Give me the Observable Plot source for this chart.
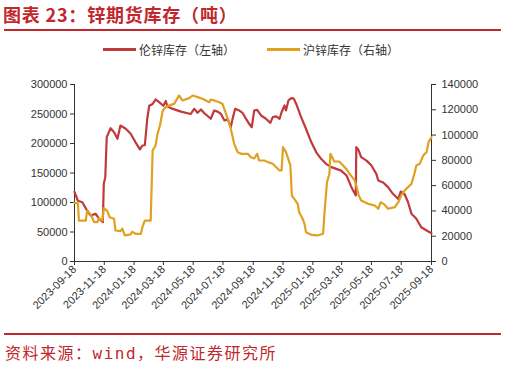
<!DOCTYPE html>
<html>
<head>
<meta charset="utf-8">
<script src="https://cdn.jsdelivr.net/npm/d3@7"></script>
<script src="https://cdn.jsdelivr.net/npm/@observablehq/plot@0.6"></script>
<style>
  html, body { margin: 0; padding: 0; background: #fff; }
  body { width: 506px; height: 367px; position: relative; overflow: hidden; font-family: "Liberation Sans", Arial, sans-serif; }
  #title { position: absolute; left: 3px; top: 1px; font-family: "Noto Sans CJK SC", sans-serif; font-weight: bold; font-size: 18px; color: #c0282d; letter-spacing: 0.8px; }
  #topline { position: absolute; left: 4px; top: 29px; width: 497px; height: 2px; background: #c0282d; }
  #legend { position: absolute; top: 39px; left: 0; width: 506px; height: 20px; font-family: "Noto Sans CJK SC", sans-serif; font-size: 12px; color: #333; }
  .lg { position: absolute; top: 0; display: flex; align-items: center; height: 20px; }
  .sw { display: inline-block; width: 33px; height: 3px; margin-right: 3px; }
  #chart { position: absolute; left: 0; top: 64px; }
  #botline { position: absolute; left: 4px; top: 333px; width: 497px; height: 2px; background: #c0282d; }
  #source { position: absolute; left: 5px; top: 340px; font-family: "Noto Sans CJK SC", sans-serif; font-size: 16px; color: #c0282d; letter-spacing: 1.5px; }
</style>
</head>
<body>
<div id="title">图表 23：锌期货库存（吨）</div>
<div id="topline"></div>
<div id="legend"></div>
<div id="chart"></div>
<div id="botline"></div>
<div id="source">资料来源：<span style="font-family:'DejaVu Sans Mono',monospace">wind</span>，华源证券研究所</div>
<script>
const seriesNames = ["伦锌库存（左轴）", "沪锌库存（右轴）"];
const seriesColors = ["#c0393b", "#e0a020"];

const lmeDates = ["2023-09-18","2023-09-25","2023-10-04","2023-10-14","2023-10-21","2023-10-31","2023-11-07","2023-11-15","2023-11-17","2023-11-20","2023-11-23","2023-12-01","2023-12-08","2023-12-15","2023-12-21","2024-01-01","2024-01-11","2024-01-21","2024-01-30","2024-02-04","2024-02-09","2024-02-14","2024-02-18","2024-02-25","2024-03-02","2024-03-08","2024-03-18","2024-03-23","2024-03-26","2024-04-02","2024-04-23","2024-05-13","2024-05-20","2024-05-27","2024-06-03","2024-06-09","2024-06-16","2024-06-23","2024-06-30","2024-07-07","2024-07-14","2024-07-21","2024-07-28","2024-08-03","2024-08-07","2024-08-12","2024-08-20","2024-08-27","2024-09-03","2024-09-10","2024-09-15","2024-09-20","2024-09-26","2024-10-04","2024-10-14","2024-10-23","2024-10-28","2024-11-04","2024-11-11","2024-11-15","2024-11-21","2024-11-24","2024-11-29","2024-12-05","2024-12-10","2024-12-15","2024-12-25","2025-01-04","2025-01-15","2025-01-25","2025-02-04","2025-02-14","2025-02-25","2025-03-07","2025-03-17","2025-03-28","2025-04-07","2025-04-16","2025-04-17","2025-04-21","2025-04-27","2025-05-08","2025-05-18","2025-05-28","2025-06-01","2025-06-11","2025-06-21","2025-07-01","2025-07-12","2025-07-17","2025-07-25","2025-08-01","2025-08-08","2025-08-18","2025-08-28","2025-09-08","2025-09-18"];
const lmeValues = [118000,103000,100500,86000,78000,81000,73000,66600,131700,143000,210700,226000,219000,208000,230500,225000,216500,202000,190000,196600,197000,242000,264000,267000,274600,271000,264000,272000,263000,260000,254000,250000,258800,252000,257600,252000,247000,242000,256000,254000,250000,239000,241000,227600,243000,258800,256000,252000,242000,233000,227600,256000,257000,247500,242000,235000,244600,246000,242000,253000,264400,256000,273000,276800,276000,267000,244600,225000,202000,185000,174000,165500,160000,157000,154000,145700,126000,112000,193700,190000,176800,171000,162700,148600,137300,134000,126000,114700,106000,118600,114000,100500,80800,72400,58000,52500,48000];

const shfeDates = ["2023-09-18","2023-09-25","2023-09-27","2023-10-11","2023-10-14","2023-10-19","2023-10-24","2023-10-28","2023-11-04","2023-11-07","2023-11-14","2023-11-17","2023-11-24","2023-11-29","2023-12-08","2023-12-11","2023-12-21","2023-12-25","2023-12-30","2024-01-11","2024-01-14","2024-01-21","2024-02-01","2024-02-04","2024-02-09","2024-02-21","2024-02-25","2024-03-02","2024-03-06","2024-03-11","2024-03-16","2024-03-19","2024-03-26","2024-04-09","2024-04-19","2024-04-26","2024-05-10","2024-05-17","2024-05-27","2024-06-06","2024-06-20","2024-06-23","2024-06-30","2024-07-10","2024-07-17","2024-07-28","2024-08-03","2024-08-10","2024-08-17","2024-08-24","2024-09-07","2024-09-13","2024-09-20","2024-09-26","2024-09-30","2024-10-11","2024-10-18","2024-10-28","2024-11-04","2024-11-11","2024-11-15","2024-11-18","2024-11-24","2024-11-28","2024-12-03","2024-12-06","2024-12-11","2024-12-18","2024-12-21","2024-12-28","2025-01-01","2025-01-04","2025-01-15","2025-01-28","2025-02-08","2025-02-11","2025-02-16","2025-02-21","2025-02-23","2025-03-03","2025-03-13","2025-03-21","2025-03-28","2025-04-03","2025-04-07","2025-04-14","2025-04-17","2025-04-22","2025-04-27","2025-05-11","2025-05-25","2025-06-01","2025-06-06","2025-06-14","2025-06-21","2025-07-05","2025-07-12","2025-07-18","2025-07-25","2025-08-01","2025-08-08","2025-08-14","2025-08-18","2025-08-25","2025-09-01","2025-09-08","2025-09-12","2025-09-18"];
const shfeValues = [46400,46000,32400,32400,40300,38000,35000,31100,31100,34300,32400,42200,40000,35000,33800,24500,24000,25900,20600,21500,23500,21900,21900,27100,32400,32400,87800,91800,101000,107600,118100,120800,122900,124700,131300,127400,129200,131300,130000,128700,126000,128000,127400,126000,124700,112900,105000,93100,86500,85200,85200,82500,81500,85200,79900,79900,78600,77300,74600,72000,72000,90400,86500,82000,75900,52200,49600,45600,39000,33800,29800,23200,21100,20600,21900,39000,62700,69400,85200,79100,79100,75900,73000,69400,67500,64000,60100,52200,48300,45600,44300,41700,46900,45000,41700,43000,46900,52200,56200,58800,61500,69400,75900,77300,83800,86500,94400,98300];

const xTickLabels = ["2023-09-18","2023-11-18","2024-01-18","2024-03-18","2024-05-18","2024-07-18","2024-09-18","2024-11-18","2025-01-18","2025-03-18","2025-05-18","2025-07-18","2025-09-18"];
const leftTicks = [0,50000,100000,150000,200000,250000,300000];
const rightTicks = [0,20000,40000,60000,80000,100000,120000,140000];
const leftMax = 300000, rightMax = 140000;

const parse = d3.utcParse("%Y-%m-%d");
const k = leftMax / rightMax;
const data = [
  ...lmeDates.map((d, i) => ({date: parse(d), y: lmeValues[i], s: seriesNames[0]})),
  ...shfeDates.map((d, i) => ({date: parse(d), y: shfeValues[i] * k, s: seriesNames[1]}))
];

// legend
const legend = document.getElementById("legend");
const lgLeft = [103, 267];
seriesNames.forEach((n, i) => {
  const el = document.createElement("div");
  el.className = "lg";
  el.style.left = lgLeft[i] + "px";
  el.innerHTML = `<span class="sw" style="background:${seriesColors[i]}"></span><span>${n}</span>`;
  legend.appendChild(el);
});

const axisColor = "#333";
const chart = Plot.plot({
  width: 506,
  height: 262,
  marginTop: 20,
  marginBottom: 65,
  marginLeft: 74,
  marginRight: 75,
  style: {fontFamily: "'Liberation Sans', Arial, sans-serif", fontSize: "11px", color: "#333", background: "transparent"},
  x: {type: "utc", domain: [parse(xTickLabels[0]), parse(xTickLabels[xTickLabels.length - 1])]},
  y: {domain: [0, leftMax]},
  color: {domain: seriesNames, range: seriesColors},
  marks: [
    Plot.axisY(leftTicks, {anchor: "left", tickSize: 4, tickPadding: 3, tickFormat: d => String(d), label: null, stroke: axisColor, fill: axisColor}),
    Plot.axisY(rightTicks.map(v => v * k), {anchor: "right", tickSize: 4, tickPadding: 6, tickFormat: d => String(Math.round(d / k)), label: null, stroke: axisColor, fill: axisColor}),
    Plot.ruleX([parse(xTickLabels[0])], {stroke: axisColor, strokeWidth: 1}),
    Plot.ruleX([parse(xTickLabels[xTickLabels.length - 1])], {stroke: axisColor, strokeWidth: 1}),
    Plot.ruleY([0], {stroke: axisColor, strokeWidth: 1}),
    Plot.axisX(xTickLabels.map(parse), {tickRotate: -45, tickSize: 4, tickPadding: 2, tickFormat: d3.utcFormat("%Y-%m-%d"), label: null, stroke: axisColor, fill: axisColor}),
    Plot.line(data, {x: "date", y: "y", z: "s", stroke: "s", strokeWidth: 2.2, curve: "linear"})
  ]
});
document.getElementById("chart").appendChild(chart);
</script>
</body>
</html>
